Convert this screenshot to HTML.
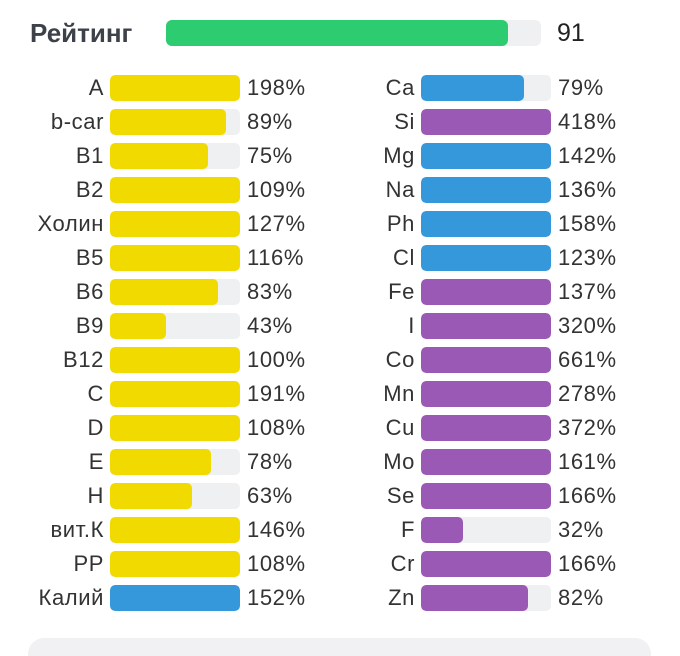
<!DOCTYPE html>
<html style="width:680px;height:656px;overflow:hidden"><head><meta charset="utf-8"><style>
body{margin:0;width:680px;height:656px;background:#fff;position:relative;overflow:hidden;font-family:"Liberation Sans","DejaVu Sans",sans-serif;color:#333}
.r{position:absolute;height:26px;left:0;width:680px}
.l{position:absolute;width:150px;text-align:right;font-size:22px;letter-spacing:0.6px;line-height:26px;top:0}
.t{position:absolute;width:130px;height:26px;background:#eff0f2;border-radius:5px;top:0;overflow:hidden}
.f{height:26px;border-radius:5px}
.v{position:absolute;font-size:22px;letter-spacing:0.6px;line-height:26px;top:0}
.y{background:#f1da00}.b{background:#3498db}.p{background:#9b59b6}
</style></head><body>
<div style="position:absolute;left:30px;top:17px;font-size:26px;font-weight:bold;color:#3d4249;line-height:32px">Рейтинг</div>
<div style="position:absolute;left:166px;top:20px;width:375px;height:26px;background:#eff0f2;border-radius:6px"><div style="width:342px;height:26px;background:#2ecc71;border-radius:6px"></div></div>
<div style="position:absolute;left:557px;top:17px;font-size:25px;line-height:32px;color:#222">91</div>

<div style="position:absolute;left:28px;top:638px;width:623px;height:18px;background:#f1f1f3;border-radius:16px 16px 0 0"></div>

<div class="r" style="top:75px"><div class="l" style="left:-46px">A</div><div class="t" style="left:110px"><div class="f y" style="width:100%"></div></div><div class="v" style="left:247px">198%</div><div class="l" style="left:265px">Ca</div><div class="t" style="left:421px"><div class="f b" style="width:79%"></div></div><div class="v" style="left:558px">79%</div></div>
<div class="r" style="top:109px"><div class="l" style="left:-46px">b-car</div><div class="t" style="left:110px"><div class="f y" style="width:89%"></div></div><div class="v" style="left:247px">89%</div><div class="l" style="left:265px">Si</div><div class="t" style="left:421px"><div class="f p" style="width:100%"></div></div><div class="v" style="left:558px">418%</div></div>
<div class="r" style="top:143px"><div class="l" style="left:-46px">B1</div><div class="t" style="left:110px"><div class="f y" style="width:75%"></div></div><div class="v" style="left:247px">75%</div><div class="l" style="left:265px">Mg</div><div class="t" style="left:421px"><div class="f b" style="width:100%"></div></div><div class="v" style="left:558px">142%</div></div>
<div class="r" style="top:177px"><div class="l" style="left:-46px">B2</div><div class="t" style="left:110px"><div class="f y" style="width:100%"></div></div><div class="v" style="left:247px">109%</div><div class="l" style="left:265px">Na</div><div class="t" style="left:421px"><div class="f b" style="width:100%"></div></div><div class="v" style="left:558px">136%</div></div>
<div class="r" style="top:211px"><div class="l" style="left:-46px">Холин</div><div class="t" style="left:110px"><div class="f y" style="width:100%"></div></div><div class="v" style="left:247px">127%</div><div class="l" style="left:265px">Ph</div><div class="t" style="left:421px"><div class="f b" style="width:100%"></div></div><div class="v" style="left:558px">158%</div></div>
<div class="r" style="top:245px"><div class="l" style="left:-46px">B5</div><div class="t" style="left:110px"><div class="f y" style="width:100%"></div></div><div class="v" style="left:247px">116%</div><div class="l" style="left:265px">Cl</div><div class="t" style="left:421px"><div class="f b" style="width:100%"></div></div><div class="v" style="left:558px">123%</div></div>
<div class="r" style="top:279px"><div class="l" style="left:-46px">B6</div><div class="t" style="left:110px"><div class="f y" style="width:83%"></div></div><div class="v" style="left:247px">83%</div><div class="l" style="left:265px">Fe</div><div class="t" style="left:421px"><div class="f p" style="width:100%"></div></div><div class="v" style="left:558px">137%</div></div>
<div class="r" style="top:313px"><div class="l" style="left:-46px">B9</div><div class="t" style="left:110px"><div class="f y" style="width:43%"></div></div><div class="v" style="left:247px">43%</div><div class="l" style="left:265px">I</div><div class="t" style="left:421px"><div class="f p" style="width:100%"></div></div><div class="v" style="left:558px">320%</div></div>
<div class="r" style="top:347px"><div class="l" style="left:-46px">B12</div><div class="t" style="left:110px"><div class="f y" style="width:100%"></div></div><div class="v" style="left:247px">100%</div><div class="l" style="left:265px">Co</div><div class="t" style="left:421px"><div class="f p" style="width:100%"></div></div><div class="v" style="left:558px">661%</div></div>
<div class="r" style="top:381px"><div class="l" style="left:-46px">C</div><div class="t" style="left:110px"><div class="f y" style="width:100%"></div></div><div class="v" style="left:247px">191%</div><div class="l" style="left:265px">Mn</div><div class="t" style="left:421px"><div class="f p" style="width:100%"></div></div><div class="v" style="left:558px">278%</div></div>
<div class="r" style="top:415px"><div class="l" style="left:-46px">D</div><div class="t" style="left:110px"><div class="f y" style="width:100%"></div></div><div class="v" style="left:247px">108%</div><div class="l" style="left:265px">Cu</div><div class="t" style="left:421px"><div class="f p" style="width:100%"></div></div><div class="v" style="left:558px">372%</div></div>
<div class="r" style="top:449px"><div class="l" style="left:-46px">E</div><div class="t" style="left:110px"><div class="f y" style="width:78%"></div></div><div class="v" style="left:247px">78%</div><div class="l" style="left:265px">Mo</div><div class="t" style="left:421px"><div class="f p" style="width:100%"></div></div><div class="v" style="left:558px">161%</div></div>
<div class="r" style="top:483px"><div class="l" style="left:-46px">H</div><div class="t" style="left:110px"><div class="f y" style="width:63%"></div></div><div class="v" style="left:247px">63%</div><div class="l" style="left:265px">Se</div><div class="t" style="left:421px"><div class="f p" style="width:100%"></div></div><div class="v" style="left:558px">166%</div></div>
<div class="r" style="top:517px"><div class="l" style="left:-46px">вит.К</div><div class="t" style="left:110px"><div class="f y" style="width:100%"></div></div><div class="v" style="left:247px">146%</div><div class="l" style="left:265px">F</div><div class="t" style="left:421px"><div class="f p" style="width:32%"></div></div><div class="v" style="left:558px">32%</div></div>
<div class="r" style="top:551px"><div class="l" style="left:-46px">PP</div><div class="t" style="left:110px"><div class="f y" style="width:100%"></div></div><div class="v" style="left:247px">108%</div><div class="l" style="left:265px">Cr</div><div class="t" style="left:421px"><div class="f p" style="width:100%"></div></div><div class="v" style="left:558px">166%</div></div>
<div class="r" style="top:585px"><div class="l" style="left:-46px">Калий</div><div class="t" style="left:110px"><div class="f b" style="width:100%"></div></div><div class="v" style="left:247px">152%</div><div class="l" style="left:265px">Zn</div><div class="t" style="left:421px"><div class="f p" style="width:82%"></div></div><div class="v" style="left:558px">82%</div></div>
</body></html>
